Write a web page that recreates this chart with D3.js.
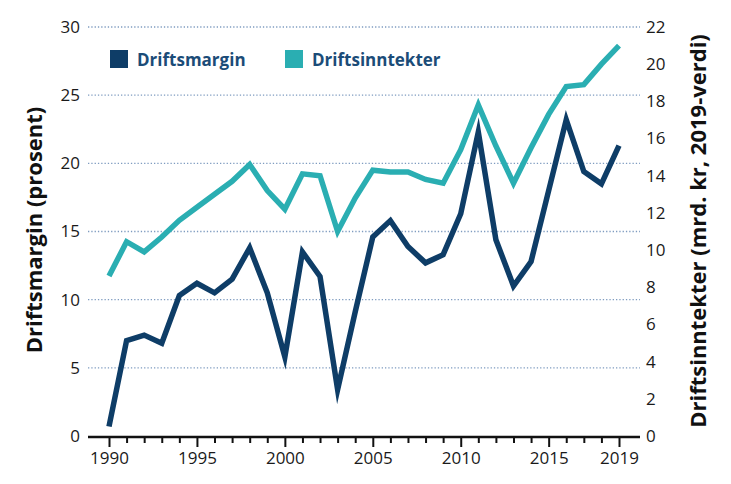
<!DOCTYPE html>
<html>
<head>
<meta charset="utf-8">
<script src="https://cdn.jsdelivr.net/npm/d3@7"></script>
<style>
  html, body { margin: 0; padding: 0; background: #fff; }
  svg { display: block; }
  text { font-family: "Open Sans", "Noto Sans", sans-serif; }
</style>
</head>
<body>
<svg id="chart" width="731" height="484"></svg>
<script>
const years = d3.range(1990, 2020);
const driftsmargin = [0.7, 7.0, 7.4, 6.8, 10.3, 11.2, 10.5, 11.5, 13.8, 10.5,
                      5.8, 13.5, 11.7, 3.4, 9.1, 14.6, 15.8, 13.9, 12.7, 13.3,
                      16.3, 22.3, 14.4, 11.0, 12.8, 18.0, 23.2, 19.4, 18.5, 21.3];
const driftsinntekter = [8.6, 10.45, 9.9, 10.7, 11.6, 12.3, 13.0, 13.7, 14.6, 13.2,
                         12.2, 14.1, 14.0, 11.0, 12.8, 14.3, 14.2, 14.2, 13.8, 13.6,
                         15.4, 17.8, 15.6, 13.6, 15.5, 17.3, 18.8, 18.9, 20.0, 21.0];
const leftTicks = [0, 5, 10, 15, 20, 25, 30];
const rightTicks = [0, 2, 4, 6, 8, 10, 12, 14, 16, 18, 20, 22];
const majorYears = [1990, 1995, 2000, 2005, 2010, 2015, 2019];
const seriesNames = ["Driftsmargin", "Driftsinntekter"];
const leftTitle = "Driftsmargin (prosent)";
const rightTitle = "Driftsinntekter (mrd. kr, 2019-verdi)";

const colors = { margin: "#0e3d67", revenue: "#2aaeb2" };
const plot = { left: 88, right: 640, top: 27, bottom: 436 };

const svg = d3.select("#chart");
const x = d3.scaleLinear().domain([1990, 2019]).range([109, 619]);
const yL = d3.scaleLinear().domain([0, 30]).range([plot.bottom, plot.top]);
const yR = d3.scaleLinear().domain([0, 22]).range([plot.bottom, plot.top]);

// gridlines
svg.append("g").selectAll("line")
  .data(leftTicks.filter(d => d > 0))
  .join("line")
  .attr("x1", plot.left).attr("x2", plot.right)
  .attr("y1", d => yL(d)).attr("y2", d => yL(d))
  .attr("stroke", "#7f9cc0").attr("stroke-width", 1.3)
  .attr("stroke-dasharray", "1.3,2");

// left axis labels
const gL = svg.append("g").attr("transform", `translate(${plot.left},0)`)
  .call(d3.axisLeft(yL).tickValues(leftTicks).tickSize(0).tickPadding(8));
gL.select(".domain").remove();
gL.selectAll("text").attr("font-size", 17).attr("fill", "#1a1a1a")
  .style("font-family", '"Open Sans", sans-serif');

// right axis labels
const gR = svg.append("g").attr("transform", `translate(${plot.right},0)`)
  .call(d3.axisRight(yR).tickValues(rightTicks).tickSize(0).tickPadding(6));
gR.select(".domain").remove();
gR.selectAll("text").attr("font-size", 17).attr("fill", "#1a1a1a")
  .style("font-family", '"Open Sans", sans-serif');

// x axis
const gx = svg.append("g").attr("transform", `translate(0,${plot.bottom + 1})`);
gx.append("g")
  .call(d3.axisBottom(x).tickValues(years.filter(y => !majorYears.includes(y)))
    .tickSize(6).tickSizeOuter(0).tickFormat(""))
  .call(g => g.select(".domain").remove())
  .call(g => g.selectAll("line").attr("stroke", "#111").attr("stroke-width", 2));
gx.append("g")
  .call(d3.axisBottom(x).tickValues(majorYears).tickSize(10).tickSizeOuter(0)
    .tickFormat(d3.format("d")).tickPadding(5))
  .call(g => g.select(".domain").remove())
  .call(g => g.selectAll("line").attr("stroke", "#111").attr("stroke-width", 2))
  .call(g => g.selectAll("text").attr("font-size", 17).attr("fill", "#1a1a1a")
    .style("font-family", '"Open Sans", sans-serif'));
gx.append("line").attr("x1", plot.left).attr("x2", plot.right)
  .attr("y1", 0).attr("y2", 0).attr("stroke", "#111").attr("stroke-width", 2.6);

// lines
const lineL = d3.line().x((d, i) => x(years[i])).y(d => yL(d));
const lineR = d3.line().x((d, i) => x(years[i])).y(d => yR(d));
svg.append("path").datum(driftsinntekter).attr("d", lineR)
  .attr("fill", "none").attr("stroke", colors.revenue).attr("stroke-width", 5.5)
  .attr("stroke-linejoin", "miter").attr("stroke-miterlimit", 10);
svg.append("path").datum(driftsmargin).attr("d", lineL)
  .attr("fill", "none").attr("stroke", colors.margin).attr("stroke-width", 5.5)
  .attr("stroke-linejoin", "miter").attr("stroke-miterlimit", 10);

// legend
const legend = [
  { name: seriesNames[0], color: colors.margin, x: 110 },
  { name: seriesNames[1], color: colors.revenue, x: 285 }
];
const lg = svg.append("g");
lg.selectAll("rect").data(legend).join("rect")
  .attr("x", d => d.x).attr("y", 50).attr("width", 18).attr("height", 18)
  .attr("fill", d => d.color);
lg.selectAll("text").data(legend).join("text")
  .attr("x", d => d.x + 27).attr("y", 66)
  .attr("font-size", 17).attr("font-weight", 700).attr("fill", "#1b4c78")
  .text(d => d.name);

// axis titles
svg.append("text")
  .attr("transform", `translate(42,230) rotate(-90)`)
  .attr("text-anchor", "middle")
  .attr("font-size", 22).attr("font-weight", 700).attr("fill", "#111")
  .text(leftTitle);
svg.append("text")
  .attr("transform", `translate(706,231) rotate(-90)`)
  .attr("text-anchor", "middle")
  .attr("font-size", 22).attr("font-weight", 700).attr("fill", "#111")
  .text(rightTitle);
</script>
</body>
</html>
